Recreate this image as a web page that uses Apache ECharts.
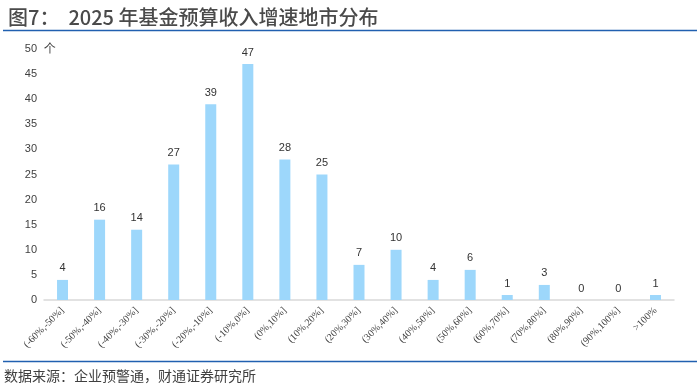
<!DOCTYPE html>
<html><head><meta charset="utf-8">
<script src="https://cdn.jsdelivr.net/npm/echarts@6/dist/echarts.min.js"></script>
<style>html,body{margin:0;padding:0;background:#fff}#c{width:700px;height:387px}</style>
</head><body><div id="c"></div>
<script>
const categories = ['(-60%,-50%]','(-50%,-40%]','(-40%,-30%]','(-30%,-20%]','(-20%,-10%]','(-10%,0%]','(0%,10%]','(10%,20%]','(20%,30%]','(30%,40%]','(40%,50%]','(50%,60%]','(60%,70%]','(70%,80%]','(80%,90%]','(90%,100%]','>100%'];
const counts = [4,16,14,27,39,47,28,25,7,10,4,6,1,3,0,0,1];
const titleText = '图7：  2025 年基金预算收入增速地市分布';
const sourceText = '数据来源：企业预警通，财通证券研究所';
const unitText = '个';

const chart = echarts.init(document.getElementById('c'), null, {renderer:'canvas'});
chart.setOption({
  animation:false,
  backgroundColor:'#fff',
  title:{text:titleText,left:3,top:2,textStyle:{fontSize:20,fontWeight:500,color:'#4a4a4a',fontFamily:'Noto Sans CJK SC'}},
  graphic:[
    {type:'line',shape:{x1:3,y1:30.5,x2:697,y2:30.5},style:{stroke:'#2160B0',lineWidth:1.5}},
    {type:'line',shape:{x1:3,y1:361.5,x2:697,y2:361.5},style:{stroke:'#2160B0',lineWidth:1.5}},
    {type:'text',left:4,top:369,style:{text:sourceText,fontSize:14,fill:'#404040',fontFamily:'Noto Sans CJK SC'}}
  ],
  grid:{left:44,right:26,top:49,bottom:87,containLabel:false},
  xAxis:{type:'category',data:categories,
    axisLine:{lineStyle:{color:'#d9d9d9',width:1.5}},
    axisTick:{show:false},
    axisLabel:{rotate:45,interval:0,fontSize:10,color:'#404040',fontFamily:'Liberation Serif',margin:9}},
  yAxis:{type:'value',min:0,max:50,interval:5,
    name:unitText,nameLocation:'end',nameGap:0,nameTextStyle:{fontSize:12,color:'#404040',align:'left',padding:[0,0,0,0],verticalAlign:'middle'},
    splitLine:{show:false},axisLine:{show:false},axisTick:{show:false},
    axisLabel:{fontSize:11,color:'#404040',margin:7,fontFamily:'Liberation Sans'}},
  series:[{type:'bar',data:counts,barWidth:11,
    itemStyle:{color:'#9DD7FB'},
    label:{show:true,position:'top',fontSize:11,color:'#333',distance:6,fontFamily:'Liberation Sans'}}]
});
</script></body></html>
